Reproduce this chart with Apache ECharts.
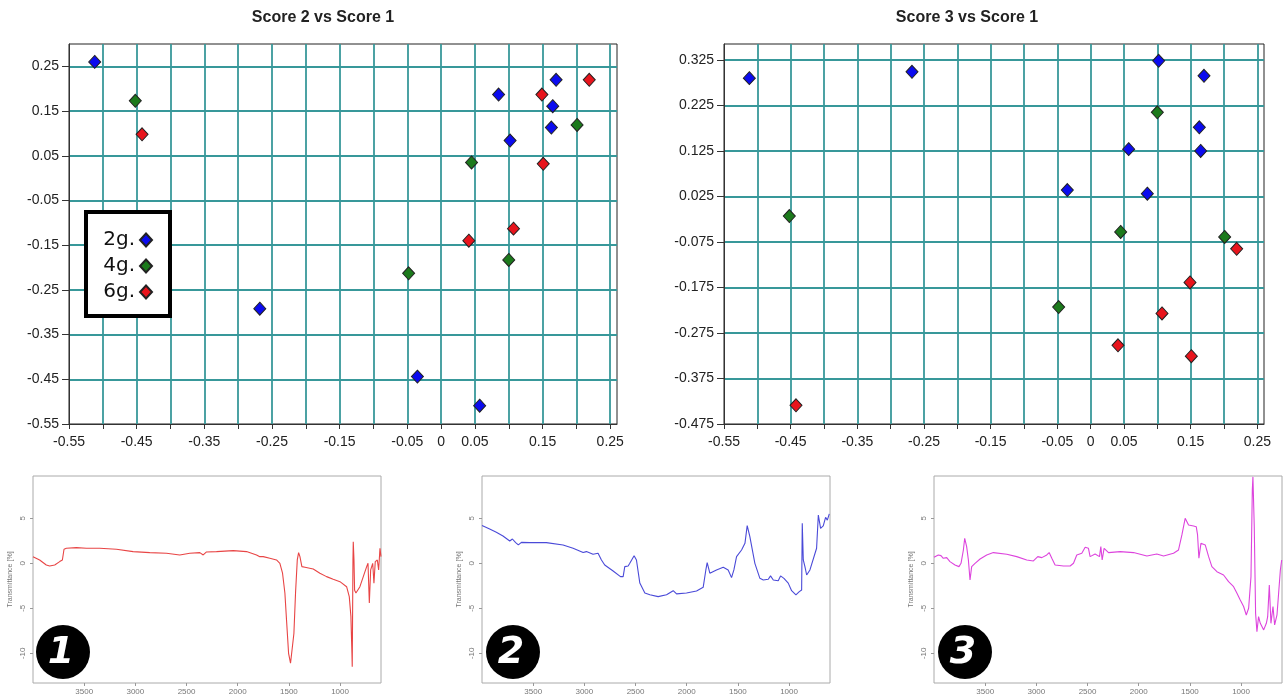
<!DOCTYPE html>
<html>
<head>
<meta charset="utf-8">
<title>Score plots and IR spectra</title>
<script src="https://cdn.jsdelivr.net/npm/echarts@6/dist/echarts.min.js"></script>
<style>
  html, body { margin: 0; padding: 0; background: #fff; }
  #chart { width: 1286px; height: 700px; }
</style>
</head>
<body>
<div id="chart"></div>
<script>
// ---- PCA scores (Score 1 shared by both score plots) ----
const groupNames = ['2g.', '4g.', '6g.'];

const score1_2g = [-0.512, -0.268, -0.035, 0.057, 0.085, 0.102, 0.170, 0.165, 0.163];
const score2_2g = [0.260, -0.292, -0.444, -0.509, 0.187, 0.084, 0.220, 0.161, 0.113];
const score3_2g = [0.285, 0.299, 0.039, 0.129, 0.031, 0.323, 0.290, 0.125, 0.177];

const score1_4g = [-0.452, -0.048, 0.045, 0.100, 0.201];
const score2_4g = [0.173, -0.213, 0.035, -0.183, 0.119];
const score3_4g = [-0.018, -0.218, -0.053, 0.210, -0.064];

const score1_6g = [-0.442, 0.041, 0.107, 0.149, 0.151, 0.219];
const score2_6g = [0.098, -0.140, -0.113, 0.187, 0.032, 0.220];
const score3_6g = [-0.434, -0.302, -0.232, -0.164, -0.326, -0.090];

// ---- score plot axes: range, tick positions and labelled ticks ----
const score1Range = { min: -0.55, max: 0.26, step: 0.05 };
const score1Ticks = [-0.55, -0.50, -0.45, -0.40, -0.35, -0.30, -0.25, -0.20, -0.15, -0.10,
                     -0.05, 0, 0.05, 0.10, 0.15, 0.20, 0.25];
const score1Labels = [-0.55, -0.45, -0.35, -0.25, -0.15, -0.05, 0, 0.05, 0.15, 0.25];
const score2Range = { min: -0.55, max: 0.30, step: 0.1 };
const score2Labels = [-0.55, -0.45, -0.35, -0.25, -0.15, -0.05, 0.05, 0.15, 0.25];
const score3Range = { min: -0.475, max: 0.36, step: 0.1 };
const score3Labels = [-0.475, -0.375, -0.275, -0.175, -0.075, 0.025, 0.125, 0.225, 0.325];

// ---- IR spectra: wavenumber [cm-1] and transmittance [%] ----
const wn1 = [4000,3935,3870,3837,3788,3739,3713,3697,3674,3576,3478,3348,3185,3022,2859,2696,2566,2468,2370,2337,2305,2207,2044,1914,1816,1784,1751,1686,1621,1588,1562,1539,1523,1503,1484,1467,1451,1435,1418,1405,1392,1373,1343,1262,1197,1132,1067,1001,936,910,894,884,881,874,871,864,858,845,806,773,740,727,714,701,681,669,656,636,623,610,600];
const tr1 = [0.74,0.37,-0.19,-0.30,-0.19,0.19,0.37,1.56,1.67,1.74,1.67,1.67,1.56,1.30,1.19,1.11,0.93,1.11,1.19,0.93,1.26,1.30,1.41,1.30,0.93,0.74,0.74,0.56,0.37,0.00,-1.10,-3.30,-6.30,-10.0,-11.1,-10.9,-7.8,-3.3,0.37,1.19,0.74,-0.37,-0.44,-0.63,-1.10,-1.48,-1.78,-2.04,-2.60,-3.70,-5.90,-10.0,-11.5,0.37,2.40,0.37,-3.0,-3.3,-2.6,-1.48,-0.37,0.0,-4.4,-0.74,0.0,-2.2,0.19,0.37,-0.74,1.67,0.74];

const wn2 = [4000,3925,3860,3795,3729,3703,3671,3645,3615,3534,3371,3208,3110,3012,2980,2915,2866,2833,2801,2719,2647,2621,2605,2572,2556,2514,2491,2458,2409,2360,2279,2197,2132,2099,2002,1904,1839,1813,1800,1774,1709,1643,1595,1562,1539,1513,1464,1431,1409,1383,1334,1285,1252,1203,1181,1154,1106,1083,1050,1008,975,933,900,877,871,861,845,828,796,731,714,692,666,643,626,607];
const tr2 = [4.19,3.80,3.44,3.04,2.48,2.70,2.30,2.04,2.33,2.30,2.30,2.04,1.67,1.19,1.30,1.00,1.11,0.37,-0.19,-0.85,-1.48,-1.48,-0.37,-0.30,0.00,0.85,0.37,-2.20,-3.30,-3.50,-3.70,-3.50,-3.04,-3.40,-3.30,-3.07,-2.67,-0.74,0.07,-1.10,-0.74,-0.44,-0.74,-1.59,-0.74,0.74,1.48,2.22,4.19,2.96,0.00,-1.67,-1.85,-1.78,-1.40,-1.85,-1.93,-1.40,-1.67,-2.20,-3.04,-3.50,-3.15,-2.96,4.44,0.37,-0.37,-1.30,-0.74,1.67,5.37,3.89,4.15,5.10,4.80,5.50];

const wn3 = [4000,3958,3932,3909,3876,3844,3795,3756,3736,3713,3700,3681,3664,3648,3632,3599,3550,3485,3420,3289,3192,3094,3029,2986,2947,2898,2875,2849,2817,2735,2670,2637,2605,2556,2523,2491,2475,2426,2383,2370,2357,2338,2295,2181,2051,1920,1823,1757,1660,1611,1578,1546,1513,1464,1438,1425,1412,1392,1373,1350,1317,1285,1236,1171,1122,1073,1040,1008,975,949,926,903,890,884,871,858,845,829,812,779,753,740,724,708,688,672,649,633,616,603];
const tr3 = [0.67,0.93,0.85,0.56,0.63,0.19,-0.19,-0.37,0.00,1.48,2.78,1.85,0.37,-1.85,-0.37,0.00,0.48,0.93,1.19,1.00,0.74,0.37,0.26,0.74,0.63,0.93,1.19,0.56,-0.19,-0.30,-0.30,0.00,0.93,1.11,1.78,1.67,0.74,1.04,0.74,1.85,0.37,1.67,1.19,1.30,1.19,0.81,1.04,0.81,1.11,1.48,3.15,5.00,4.26,4.15,4.07,3.15,0.56,2.22,2.41,2.04,0.74,-0.37,-0.93,-1.30,-2.04,-2.60,-3.33,-4.07,-4.80,-5.74,-5.00,-1.48,8.15,9.60,4.07,-5.56,-7.60,-5.93,-6.67,-7.40,-6.67,-5.93,-2.41,-6.67,-4.80,-6.85,-5.74,-3.33,-0.74,0.37];

const wavenumberTicks = [3500, 3000, 2500, 2000, 1500, 1000];
const transmittanceTicks = [-10, -5, 0, 5];

// ---- helpers ----
const zip = (xs, ys) => xs.map((x, i) => [x, ys[i]]);
const groupColors = ['#0b0bef', '#1c7a1c', '#e8141c'];
const FONT = '"Liberation Sans", Arial, sans-serif';
const GRIDLINE = '#38989a';

// label only the listed tick values, everything else stays blank
function labelFormatter(labels, digits) {
  return function (v) {
    const hit = labels.some(l => Math.abs(l - v) < 1e-6);
    if (!hit) return '';
    if (Math.abs(v) < 1e-9) return '0';
    return v.toFixed(digits);
  };
}

function scoreAxis(kind, gridIndex, range, ticks, labels, digits) {
  const isX = kind === 'x';
  return {
    type: 'value', gridIndex: gridIndex,
    min: range.min, max: range.max, interval: range.step,
    z: 3,
    axisLine: { show: true, onZero: false, lineStyle: { color: '#333', width: 1 } },
    axisTick: { show: true, length: isX ? 5 : 7, customValues: ticks, lineStyle: { color: '#333' } },
    // the first tick sits on the axis line itself, so only that grid line is skipped
    splitLine: { show: true, showMinLine: false, showMaxLine: true,
                 lineStyle: { color: GRIDLINE, width: 1.8 } },
    axisLabel: {
      customValues: labels,
      margin: isX ? 11 : 10,
      fontFamily: FONT, fontSize: 14, color: '#222',
      formatter: labelFormatter(labels, digits)
    }
  };
}

function spectrumXAxis(gridIndex) {
  return {
    type: 'value', gridIndex: gridIndex, inverse: true,
    min: 600, max: 4000,
    axisLine: { show: false, onZero: false },
    axisTick: { show: true, length: 3, customValues: wavenumberTicks, lineStyle: { color: '#999' } },
    splitLine: { show: false },
    axisLabel: { customValues: wavenumberTicks, margin: 5, fontFamily: FONT, fontSize: 8, color: '#777',
                 formatter: v => String(v) }
  };
}

function spectrumYAxis(gridIndex) {
  return {
    type: 'value', gridIndex: gridIndex,
    min: -13.3, max: 9.7,
    name: 'Transmittance [%]', nameLocation: 'middle', nameGap: 19, nameRotate: 90,
    nameTextStyle: { fontFamily: FONT, fontSize: 7, color: '#777' },
    axisLine: { show: false, onZero: false },
    axisTick: { show: true, length: 3, customValues: transmittanceTicks, lineStyle: { color: '#999' } },
    splitLine: { show: false },
    axisLabel: { customValues: transmittanceTicks, rotate: 90, margin: 6, fontFamily: FONT, fontSize: 8, color: '#777',
                 formatter: v => String(v) }
  };
}

function scoreSeries(name, xs, ys, colorIdx, axisIdx) {
  return {
    type: 'scatter', name: name,
    xAxisIndex: axisIdx, yAxisIndex: axisIdx,
    symbol: 'diamond', symbolSize: [12, 13],
    itemStyle: { color: groupColors[colorIdx], borderColor: '#222', borderWidth: 1, opacity: 1 },
    data: zip(xs, ys),
    z: 5
  };
}

function spectrumSeries(wn, tr, color, axisIdx) {
  return {
    type: 'line', xAxisIndex: axisIdx, yAxisIndex: axisIdx,
    showSymbol: false, symbol: 'none', silent: true,
    lineStyle: { color: color, width: 1.1 },
    data: zip(wn, tr)
  };
}

function badge(cx, label) {
  return [
    { type: 'circle', shape: { cx: cx, cy: 652, r: 27 }, style: { fill: '#000' }, z: 20 },
    { type: 'text', x: cx - 2, y: 653, z: 21,
      style: { text: label, fill: '#fff', font: 'italic bold 38px "DejaVu Sans", sans-serif',
               align: 'center', verticalAlign: 'middle', textAlign: 'center', textVerticalAlign: 'middle' } }
  ];
}

const chart = echarts.init(document.getElementById('chart'), null, { renderer: 'canvas' });

chart.setOption({
  backgroundColor: '#fff',
  animation: false,
  title: [
    { text: 'Score 2 vs Score 1', left: 323, top: 10, padding: 0, textAlign: 'center',
      textStyle: { fontFamily: FONT, fontSize: 16, fontWeight: 'bold', color: '#222' } },
    { text: 'Score 3 vs Score 1', left: 967, top: 10, padding: 0, textAlign: 'center',
      textStyle: { fontFamily: FONT, fontSize: 16, fontWeight: 'bold', color: '#222' } }
  ],
  legend: {
    data: groupNames,
    orient: 'vertical', align: 'right',
    left: 86, top: 212,
    itemWidth: 12, itemHeight: 13, itemGap: 6,
    padding: [18, 17, 14, 12],
    backgroundColor: '#fff', borderColor: '#000', borderWidth: 4, borderRadius: 0,
    selectedMode: false,
    textStyle: { fontFamily: '"DejaVu Sans", sans-serif', fontSize: 20, color: '#111', lineHeight: 20, width: 37 }
  },
  grid: [
    { left: 69, top: 44, width: 548, height: 380, show: true, borderColor: '#222', borderWidth: 1, outerBoundsMode: 'none' },
    { left: 724, top: 44, width: 540, height: 380, show: true, borderColor: '#222', borderWidth: 1, outerBoundsMode: 'none' },
    { left: 33, top: 476, width: 348, height: 207, show: true, borderColor: '#aaa', borderWidth: 1, outerBoundsMode: 'none' },
    { left: 482, top: 476, width: 348, height: 207, show: true, borderColor: '#aaa', borderWidth: 1, outerBoundsMode: 'none' },
    { left: 934, top: 476, width: 348, height: 207, show: true, borderColor: '#aaa', borderWidth: 1, outerBoundsMode: 'none' }
  ],
  xAxis: [
    scoreAxis('x', 0, score1Range, score1Ticks, score1Labels, 2),
    scoreAxis('x', 1, score1Range, score1Ticks, score1Labels, 2),
    spectrumXAxis(2),
    spectrumXAxis(3),
    spectrumXAxis(4)
  ],
  yAxis: [
    scoreAxis('y', 0, score2Range, score2Labels, score2Labels, 2),
    scoreAxis('y', 1, score3Range, score3Labels, score3Labels, 3),
    spectrumYAxis(2),
    spectrumYAxis(3),
    spectrumYAxis(4)
  ],
  series: [
    scoreSeries(groupNames[0], score1_2g, score2_2g, 0, 0),
    scoreSeries(groupNames[1], score1_4g, score2_4g, 1, 0),
    scoreSeries(groupNames[2], score1_6g, score2_6g, 2, 0),
    scoreSeries(groupNames[0], score1_2g, score3_2g, 0, 1),
    scoreSeries(groupNames[1], score1_4g, score3_4g, 1, 1),
    scoreSeries(groupNames[2], score1_6g, score3_6g, 2, 1),
    spectrumSeries(wn1, tr1, '#e84545', 2),
    spectrumSeries(wn2, tr2, '#4a4ad8', 3),
    spectrumSeries(wn3, tr3, '#dd44dd', 4)
  ],
  graphic: [].concat(badge(63, '1'), badge(513, '2'), badge(965, '3'))
});
</script>
</body>
</html>
